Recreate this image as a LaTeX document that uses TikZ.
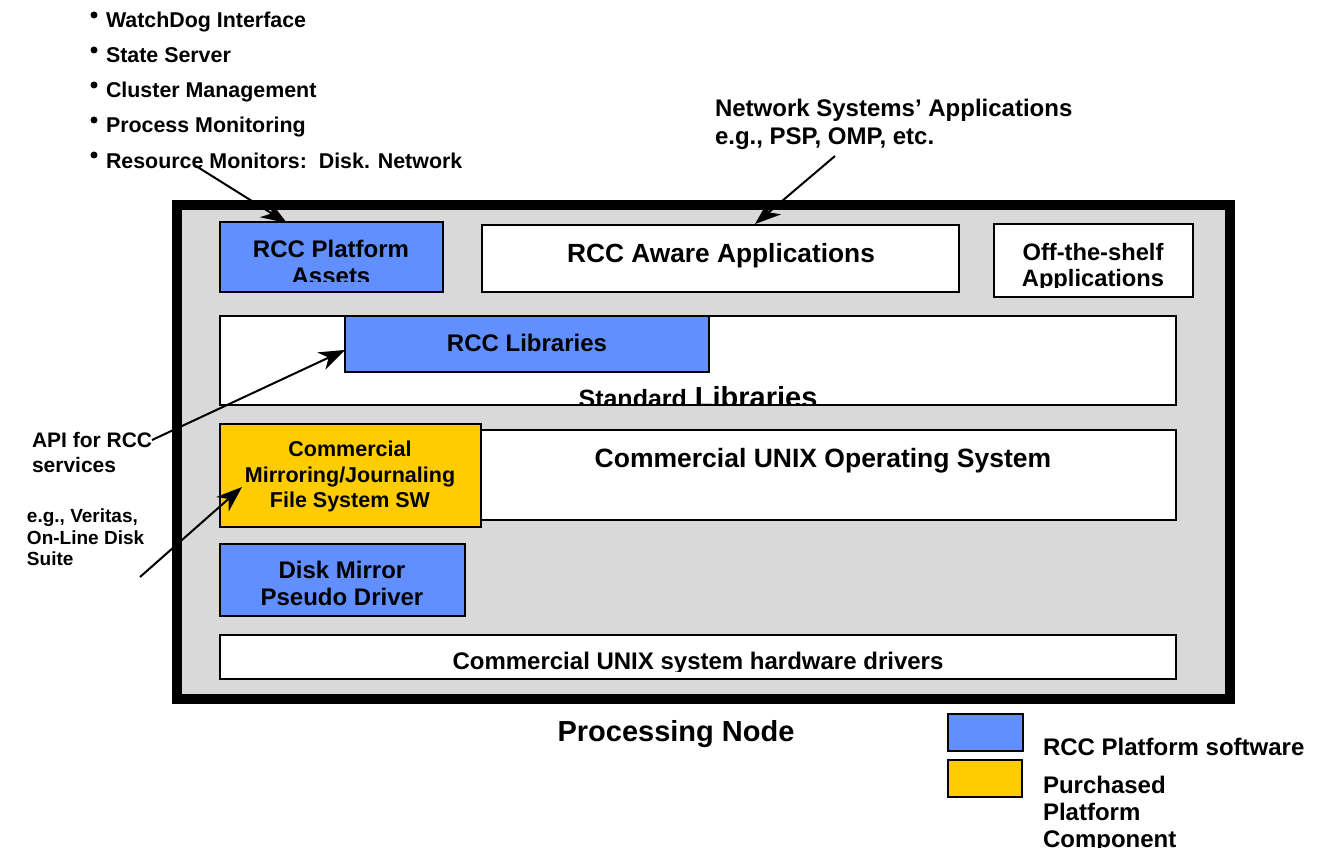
\documentclass[tikz,border=0pt]{standalone}
\usepackage{fontspec}
\setmainfont{Liberation Sans}
\usetikzlibrary{arrows.meta,fit}
\definecolor{rccgrey}{RGB}{217,217,217}
\definecolor{rccblue}{RGB}{97,143,255}
\definecolor{rccyellow}{RGB}{255,204,0}
\newcommand{\fsz}[1]{\fontsize{#1pt}{#1pt}\selectfont\bfseries}
\begin{document}
\begin{tikzpicture}[x=1pt,y=-1pt,
  box/.style={draw, line width=2.5pt, inner sep=0pt, outer sep=0pt},
  lbl/.style={inner sep=0pt, outer sep=0pt, anchor=base},
  lblw/.style={inner sep=0pt, outer sep=0pt, anchor=base west},
  arr/.style={line width=2pt, -{Stealth[length=26pt,width=19pt,inset=8pt]}},
  bdot/.style={circle, fill=black, inner sep=0pt, minimum size=7pt}
]
\useasboundingbox (0,0) rectangle (1320,848);

% frame
\node[box, line width=10pt, fill=rccgrey, fit={(177,205)(1230,699)}] (frame) {};

% boxes
\node[box, fill=rccblue, fit={(220,222)(443,292)}] (assets) {};
\node[box, fill=white, fit={(482,225)(959,292)}] (aware) {};
\node[box, fill=white, fit={(994,224)(1193,297)}] (offshelf) {};
\node[box, fill=white, fit={(220,316)(1176,405)}] (stdlib) {};
\node[box, fill=rccblue, fit={(345,316)(709,372)}] (rcclib) {};
\node[box, fill=white, fit={(470,430)(1176,520)}] (unixos) {};
\node[box, fill=rccyellow, fit={(220,424)(481,527)}] (mirror) {};
\node[box, fill=rccblue, fit={(220,544)(465,616)}] (diskmirror) {};
\node[box, fill=white, fit={(220,635)(1176,679)}] (hwdrv) {};

% legend
\node[box, fill=rccblue, fit={(948,714)(1023,751)}] (legblue) {};
\node[box, fill=rccyellow, fit={(948,760)(1022,797)}] (legyellow) {};
\node[lblw, font=\fsz{24}] (legt1) at (1043,755) {RCC Platform software};
\node[lblw, font=\fsz{24}] (legt2) at (1043,793) {Purchased};
\node[lblw, font=\fsz{24}] (legt3) at (1043,820) {Platform};
\node[lblw, font=\fsz{24}] (legt4) at (1043,847) {Component};

% bullet list
\node[bdot] (d1) at (94,15) {};
\node[bdot] (d2) at (94,50) {};
\node[bdot] (d3) at (94,85) {};
\node[bdot] (d4) at (94,120) {};
\node[bdot] (d5) at (94,155) {};
\node[lblw, font=\fsz{21.4}] (bl1) at (106,28) {WatchDog Interface};
\node[lblw, font=\fsz{21.4}] (bl2) at (106,63) {State Server};
\node[lblw, font=\fsz{21.4}] (bl3) at (106,98) {Cluster Management};
\node[lblw, font=\fsz{21.4}] (bl4) at (106,133) {Process Monitoring};
\node[lblw, font=\fsz{21.4}] (bl5) at (106,168) {Resource Monitors:\ \ Disk. Network};

% network apps
\node[lblw, font=\fsz{24}] (net1) at (715,117) {Network Systems’ Applications};
\node[lblw, font=\fsz{24}] (net2) at (715,145) {e.g., PSP, OMP, etc.};

% side labels
\node[lblw, font=\fsz{21}] (api1) at (32,447) {API for RCC};
\node[lblw, font=\fsz{21}] (api2) at (32,472) {services};
\node[lblw, font=\fsz{19}] (eg1) at (27,522) {e.g., Veritas,};
\node[lblw, font=\fsz{19}] (eg2) at (27,544) {On-Line Disk};
\node[lblw, font=\fsz{19}] (eg3) at (27,565) {Suite};

% box texts
\begin{scope}
\clip (220,222) rectangle (443,281);
\node[lbl, font=\fsz{24}] (assetst1) at (331,257) {RCC Platform};
\node[lbl, font=\fsz{24}] (assetst2) at (331,284) {Assets};
\end{scope}
\node[lbl, font=\fsz{26.3}] (awaret) at (721,262) {RCC Aware Applications};
\begin{scope}
\clip (994,224) rectangle (1193,287);
\node[lbl, font=\fsz{23.7}] (offt1) at (1093,260) {Off-the-shelf};
\node[lbl, font=\fsz{23.7}] (offt2) at (1093,286) {Applications};
\end{scope}
\node[lbl, font=\fsz{24}] (rcclibt) at (527,351) {RCC Libraries};
\begin{scope}
\clip (220,316) rectangle (1176,404);
\node[lbl] (stdlibt) at (698,407) {\fsz{25}Standard\hspace{8pt}\fsz{29}Libraries};
\end{scope}
\node[lbl, font=\fsz{26.5}] (unixost) at (823,467) {Commercial UNIX Operating System};
\node[lbl, font=\fsz{21.5}] (mirt1) at (350,456) {Commercial};
\node[lbl, font=\fsz{21.5}] (mirt2) at (350,482) {Mirroring/Journaling};
\node[lbl, font=\fsz{21.5}] (mirt3) at (350,507) {File System SW};
\begin{scope}
\clip (220,544) rectangle (465,606);
\node[lbl, font=\fsz{24}] (dmt1) at (342,578) {Disk Mirror};
\node[lbl, font=\fsz{24}] (dmt2) at (342,605) {Pseudo Driver};
\end{scope}
\begin{scope}
\clip (220,635) rectangle (1176,671);
\node[lbl, font=\fsz{24}] (hwt) at (698,669) {Commercial UNIX system hardware drivers};
\end{scope}
\node[lbl, font=\fsz{29}] (pnode) at (676,741) {Processing Node};

% arrows
\coordinate (a1s) at (196,166); \coordinate (a1e) at (287,223);
\coordinate (a2s) at (835,156); \coordinate (a2e) at (755,224);
\coordinate (a3s) at (152,440); \coordinate (a3e) at (345,350);
\coordinate (a4s) at (140,577); \coordinate (a4e) at (242,487);
\draw[arr] (a1s) -- (a1e);
\draw[arr] (a2s) -- (a2e);
\draw[arr] (a3s) -- (a3e);
\draw[arr] (a4s) -- (a4e);
\end{tikzpicture}
\end{document}
